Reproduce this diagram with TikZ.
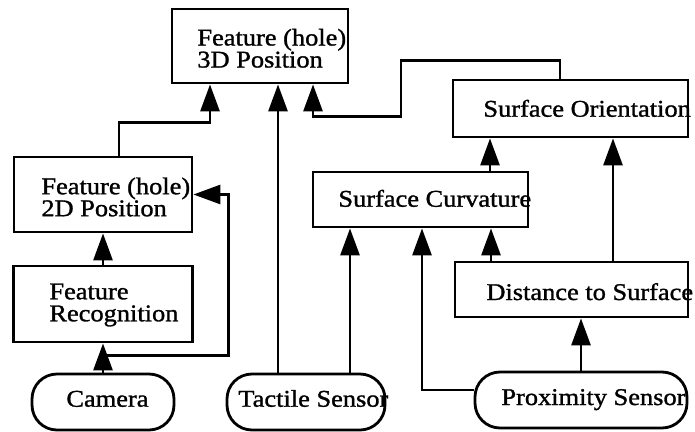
\documentclass[tikz,border=0pt]{standalone}
\usepackage{fontspec}
\setmainfont{Liberation Serif}[FakeStretch=1.1,FakeBold=1.2]
\usepackage{tikz}
\usetikzlibrary{arrows.meta,positioning}
\tikzset{
    basic/.style  = {draw, line width=2.8pt, rectangle, inner sep=0pt},
    proc/.style   = {basic},
    sensor/.style = {basic, rounded corners=25pt},
    txt/.style    = {inner sep=0pt, anchor=west, align=left, font=\fontsize{24}{22}\selectfont},
    txt base/.style = {txt, anchor=base west}
}

\begin{document}
\begin{tikzpicture}[x=1pt, y=-1pt,
	line width=2.8pt,
	>={Triangle[length=27pt,width=19pt]}]
		\useasboundingbox (0,0) rectangle (695,431);
		\begin{scope}[every node/.style={proc}]
			\node[minimum width=176pt, minimum height=74pt] (pos3d) at (260,46) {};
			\node[minimum width=178pt, minimum height=75pt] (pos2d) at (103,194.5) {};
			\node[minimum width=179pt, minimum height=76pt] (recog) at (103,304) {};
			\node[minimum width=215pt, minimum height=55pt] (curv) at (420.5,199.5) {};
			\node[minimum width=235pt, minimum height=57pt] (orient) at (570.5,108.5) {};
			\node[minimum width=233pt, minimum height=55pt] (dist) at (571.5,289.5) {};
		\end{scope}
		\begin{scope}[every node/.style={sensor}]
			\node[minimum width=142pt, minimum height=56pt] (camera) at (103,402) {};
			\node[minimum width=158pt, minimum height=56pt] (tactile) at (306,402) {};
			\node[minimum width=212pt, minimum height=56pt] (prox) at (581,400) {};
		\end{scope}
		\node[txt] (pos3d text) at (196,48.3) {Feature (hole)\\3D Position};
		\node[txt] (pos2d text) at (40,197) {Feature (hole)\\2D Position};
		\node[txt] (recog text) at (48,305) {Feature\\Recognition};
		\node[txt base] (curv text) at (337,206.7) {Surface Curvature};
		\node[txt base] (orient text) at (482,116.7) {Surface Orientation};
		\node[txt base] (dist text) at (485,300) {Distance to Surface};
		\node[txt base] (camera text) at (65,406.7) {Camera};
		\node[txt base] (tactile text) at (237,406.7) {Tactile Sensor};
		\node[txt base] (prox text) at (500,405) {Proximity Sensor};

		\draw[->] ([xshift=16pt]pos2d.north) -- ++(0,-33) -| ([xshift=-50pt]pos3d.south);
		\draw[->] ([xshift=-28pt]tactile.north) -- ([xshift=18pt]pos3d.south);
		\draw[->] ([xshift=-10.5pt]orient.north) -- ++(0,-18) -| ++(-159,56) -| ([xshift=53pt]pos3d.south);
		\draw[->] (camera.north) -- (recog.south);
		\draw[->] ([yshift=17pt]camera.north) -| ([xshift=35pt]pos2d.east) -- (pos2d.east);
		\draw[->] (recog.north) -- (pos2d.south);
		\draw[->] ([xshift=44pt]tactile.north) -- ([xshift=-70.5pt]curv.south);
		\draw[->] ([yshift=10pt]prox.west) -| ([xshift=1.5pt]curv.south);
		\draw[->] (prox.north) -- (prox.north |- dist.south);
		\draw[->] ([xshift=-80.5pt]dist.north) -- ([xshift=70.5pt]curv.south);
		\draw[->] ([xshift=69.5pt]curv.north) -- ([xshift=-80.5pt]orient.south);
		\draw[->] ([xshift=41.5pt]dist.north) -- ([xshift=42.5pt]orient.south);
	\end{tikzpicture}
\end{document}
